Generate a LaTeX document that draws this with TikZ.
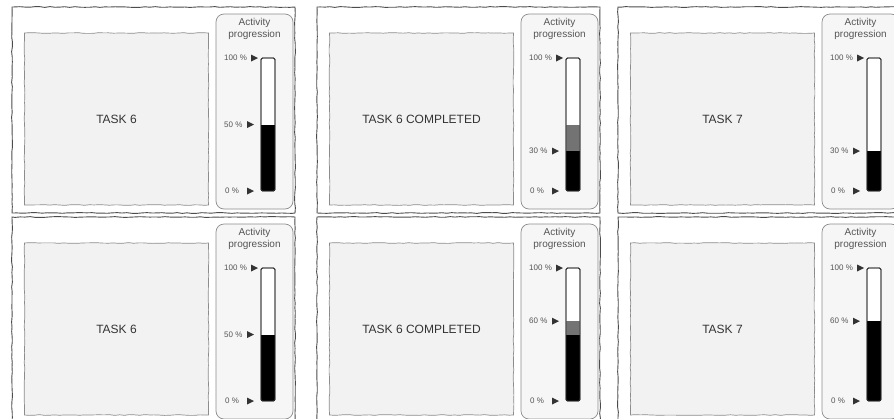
\documentclass[tikz,border=0pt]{standalone}
\usepackage{fontspec}
\setmainfont{Liberation Sans}
\usetikzlibrary{positioning,calc,decorations.pathmorphing}

\definecolor{taskfill}{HTML}{F2F2F2}
\definecolor{panelfill}{HTML}{F6F6F6}
\definecolor{edgegray}{HTML}{8C8C8C}
\definecolor{textgray}{HTML}{555555}

\tikzset{
  sketch/.style={decorate,decoration={random steps,segment length=5pt,amplitude=0.4pt}},
  outerframe/.style={sketch,draw=black!70,fill=white,line width=0.9pt,inner sep=0pt},
  taskbox/.style={sketch,draw=edgegray,fill=taskfill,line width=0.7pt,text=black!80},
  sidepanel/.style={draw=edgegray,fill=panelfill,rounded corners=8pt,line width=0.7pt},
  paneltitle/.style={align=center,font=\fontsize{10}{12}\selectfont,text=textgray,inner sep=0pt},
  gauge/.style={draw=black!80,rounded corners=1.5pt,line width=0.8pt,inner sep=0pt},
  pctlabel/.style={anchor=west,font=\fontsize{8}{9}\selectfont,text=textgray,inner sep=0pt},
  pointer/.style={fill=black!80}
}
\pgfmathsetseed{7}

\begin{document}
\begin{tikzpicture}[x=1pt,y=-1pt,font=\fontsize{12}{14}\selectfont]
  \useasboundingbox (0,0) rectangle (894,418);
  \clip (0,0) rectangle (894,418);
  \foreach \px/\py/\task/\pct/\blk/\gry [count=\i] in {12/7/TASK 6/50/50/50,317/7/TASK 6 COMPLETED/30/30/50,618/7/TASK 7/30/30/30,12/217/TASK 6/50/50/50,317/217/TASK 6 COMPLETED/60/50/60,618/217/TASK 7/60/60/60}{
    \node[outerframe,minimum width=283pt,minimum height=206pt] (frame\i) at (\px+141.5,\py+103) {};
    \node[taskbox,minimum width=184pt,minimum height=172pt] (task\i) at (\px+104.5,\py+112) {\task};
    \node[sidepanel,minimum width=77pt,minimum height=195pt] (side\i) at (\px+242.5,\py+104.5) {};
    \node[paneltitle,below=4pt of side\i.north] (title\i) {Activity\\progression};
    % gauge
    \node[gauge,fill=white,minimum width=14pt,minimum height=133pt] (gauge\i) at (\px+256,\py+117.5) {};
    \fill[black!55] (gauge\i.south west) rectangle ($(gauge\i.south east)!\gry/100!(gauge\i.north east)$);
    \fill[black] (gauge\i.south west) rectangle ($(gauge\i.south east)!\blk/100!(gauge\i.north east)$);
    \node[gauge,minimum width=14pt,minimum height=133pt] at (gauge\i) {};
    % levels
    \node[pctlabel] (full\i) at (\px+212,\py+51) {100 \%};
    \node[pctlabel] (part\i) at (\px+212,\py+184-1.33*\pct) {\pct\ \%};
    \node[pctlabel] (zero\i) at (\px+213,\py+184) {0 \%};
    \fill[pointer] (\px+239,\py+47.5) -- (\px+246,\py+51) -- (\px+239,\py+54.5) -- cycle;
    \fill[pointer] (\px+235,\py+180.5-1.33*\pct) -- (\px+242,\py+184-1.33*\pct) -- (\px+235,\py+187.5-1.33*\pct) -- cycle;
    \fill[pointer] (\px+235,\py+180.5) -- (\px+242,\py+184) -- (\px+235,\py+187.5) -- cycle;
  }
\end{tikzpicture}
\end{document}
